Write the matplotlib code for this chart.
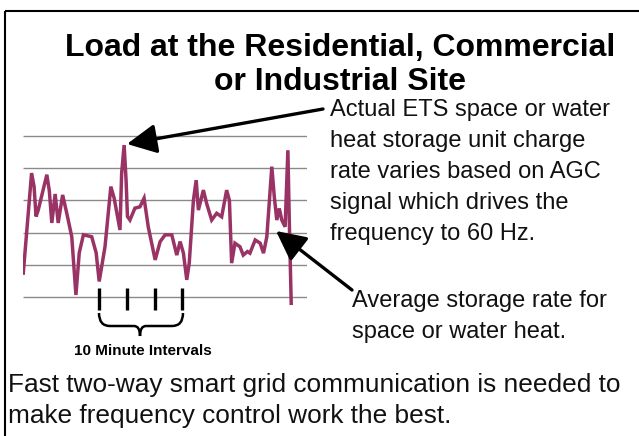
import matplotlib
matplotlib.use("Agg")
import matplotlib.pyplot as plt
from matplotlib.path import Path
from matplotlib.patches import PathPatch, Rectangle

# load trace (minutes, load in grid units)
minutes = [0.1, 3.1, 4.0, 4.7, 5.5, 8.6, 9.5, 10.4, 11.6, 12.7, 14.3, 15.8,
           17.6, 19.1, 20.3, 21.8, 24.8, 26.4, 27.5, 29.6, 31.7, 32.9, 35.0,
           35.6, 36.5, 37.2, 37.7, 38.6, 40.4, 42.2, 43.7, 45.2, 47.7, 49.5,
           51.3, 53.7, 55.5, 56.7, 57.9, 59.1, 60.0, 61.5, 62.5, 63.3, 65.1,
           66.3, 68.1, 69.9, 71.7, 73.5, 74.5, 75.3, 76.5, 78.3, 79.5, 81.0,
           81.9, 83.8, 85.6, 86.8, 88.0, 89.8, 90.7, 91.6, 92.5, 93.4, 94.6,
           95.6, 96.1, 96.8]
load = [0.74, 3.85, 3.43, 2.5, 2.7, 3.8, 3.3, 2.3, 3.2, 2.3, 3.17, 2.6,
        1.87, 0.06, 1.37, 1.93, 1.87, 1.37, 0.48, 1.56, 3.43, 3.07, 2.08,
        3.84, 4.72, 3.63, 2.5, 2.39, 2.76, 2.8, 3.07, 2.18, 1.15, 1.72,
        1.93, 1.93, 1.3, 1.72, 1.36, 0.53, 1.05, 3.0, 3.63, 2.7, 3.32,
        2.9, 2.39, 2.6, 2.49, 3.32, 3.0, 1.05, 1.67, 1.56, 1.3, 1.41,
        1.36, 1.77, 1.67, 1.36, 1.87, 4.05, 3.11, 2.39, 2.75, 2.39, 2.18,
        4.56, 2.39, -0.2]
grid_levels = [0, 1, 2, 3, 4, 5]
interval_marks = [27.5, 37.5, 47.5, 57.5]

title_lines = ["Load at the Residential, Commercial", "or Industrial Site"]
actual_lines = ["Actual ETS space or water", "heat storage unit charge",
                "rate varies based on AGC", "signal which drives the",
                "frequency to 60 Hz."]
average_lines = ["Average storage rate for", "space or water heat."]
footer_lines = ["Fast two-way smart grid communication is needed to",
                "make frequency control work the best."]
interval_label = "10 Minute Intervals"

W, H = 639, 436
FONT = "Liberation Sans"
LINE_COLOR = "#993366"

fig = plt.figure(figsize=(W / 100, H / 100), dpi=100)
fig.patch.set_facecolor("white")

# chart area, placed in pixels: x 23..307, y 130..312
def px_axes(x0, y0, x1, y1):
    return fig.add_axes([x0 / W, 1 - y1 / H, (x1 - x0) / W, (y1 - y0) / H])

ax = px_axes(23, 130, 307, 312)
ax.set_xlim(0, 102.5)
ax.set_ylim(-0.47, 5.19)
ax.axis("off")
ax.hlines(grid_levels, 0, 102.5, color="#8a8a8a", lw=1.0)
ax.plot(minutes, load, color=LINE_COLOR, lw=2.5, solid_joinstyle="miter")
ax.vlines(interval_marks, -0.4, 0.28, color="black", lw=2.4)

# overlay in pixel coordinates for the text, arrows and frame
ov = fig.add_axes([0, 0, 1, 1])
ov.set_xlim(0, W)
ov.set_ylim(H, 0)
ov.axis("off")
ov.patch.set_alpha(0)

ov.add_patch(Rectangle((5, 11), 700, 500, fill=False, ec="black", lw=1.5))

for i, line in enumerate(title_lines):
    ov.text(340, 56 + i * 34, line, ha="center", va="baseline",
            fontsize=23, fontweight="bold", family=FONT)

for i, line in enumerate(actual_lines):
    ov.text(330, 116 + i * 31, line, ha="left", va="baseline",
            fontsize=17, family=FONT, color="#111111")

for i, line in enumerate(average_lines):
    ov.text(352, 307 + i * 31, line, ha="left", va="baseline",
            fontsize=17, family=FONT, color="#111111")

for i, line in enumerate(footer_lines):
    ov.text(8, 392 + i * 31, line, ha="left", va="baseline",
            fontsize=18.9, family=FONT, color="#111111")

ov.text(143, 355, interval_label, ha="center", va="baseline",
        fontsize=11, fontweight="bold", family=FONT)

# curly brace under the interval marks
verts = [(99, 313), (99, 326), (110, 326), (134, 326), (140, 326),
         (140, 336), (140, 326), (146, 326), (172, 326), (183, 326),
         (183, 313)]
codes = [Path.MOVETO, Path.CURVE3, Path.CURVE3, Path.LINETO, Path.CURVE3,
         Path.CURVE3, Path.CURVE3, Path.CURVE3, Path.LINETO, Path.CURVE3,
         Path.CURVE3]
ov.add_patch(PathPatch(Path(verts, codes), fill=False, ec="black", lw=1.8))

arrow = dict(arrowstyle="-|>,head_length=0.9,head_width=0.45", lw=2.4,
             color="black", shrinkA=0, shrinkB=0, mutation_scale=20)
ov.annotate("", xy=(127, 144), xytext=(323, 109), arrowprops=arrow)
ov.annotate("", xy=(276, 231), xytext=(352, 290), arrowprops=arrow)

fig.savefig("out.png", dpi=100)
